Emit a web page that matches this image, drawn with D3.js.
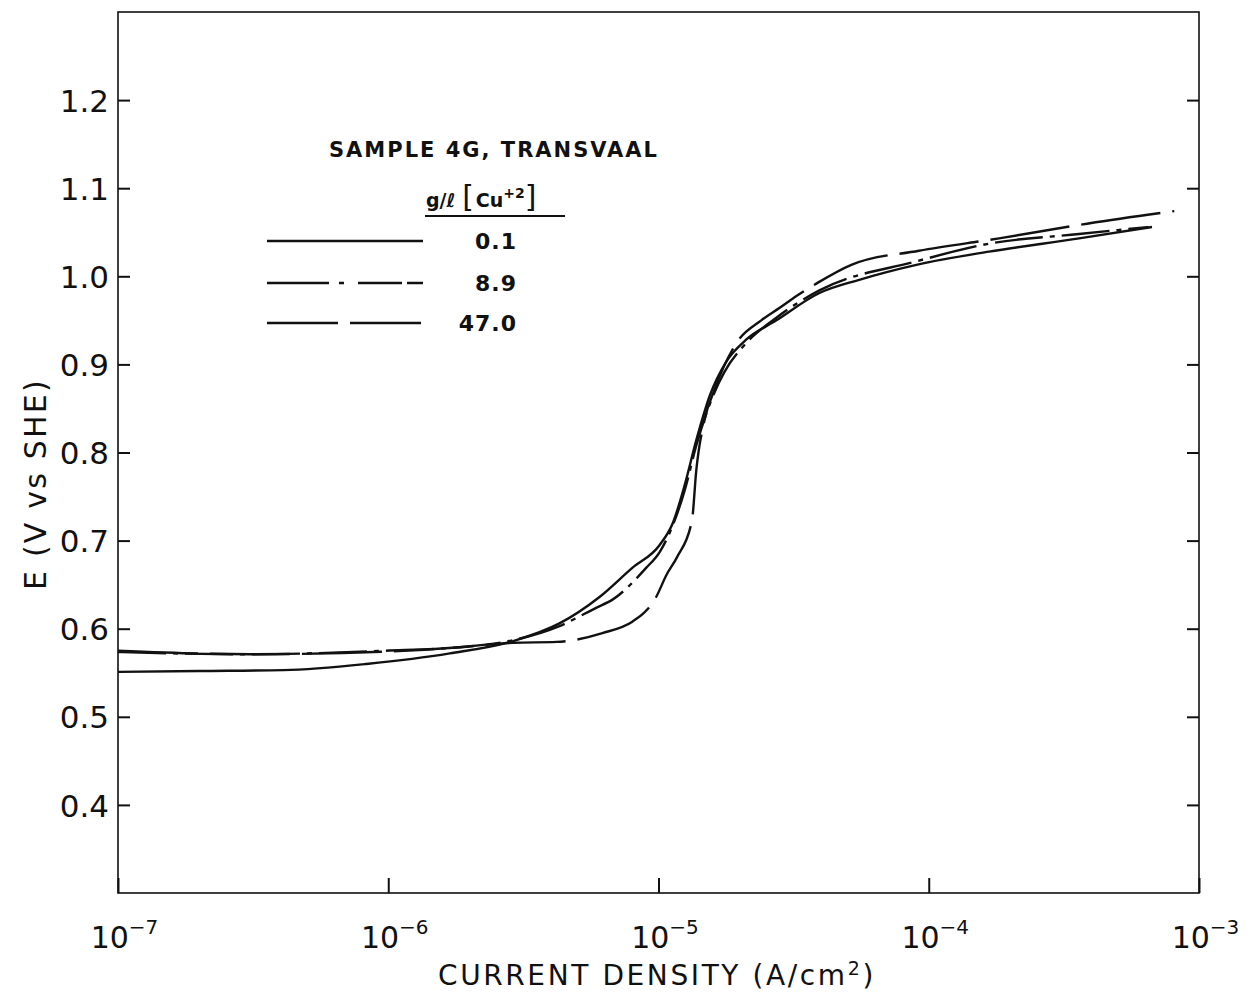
<!DOCTYPE html>
<html>
<head>
<meta charset="utf-8">
<script src="https://cdn.jsdelivr.net/npm/d3@7"></script>
<style>
  html, body { margin: 0; padding: 0; background: #fff; }
  svg { display: block; }
  text { font-family: "DejaVu Sans", "Liberation Sans", sans-serif; fill: #111; }
</style>
</head>
<body>
<svg id="chart" width="1254" height="996"></svg>
<script>
// Polarization curves: current density (A/cm^2) vs potential E (V vs SHE)
const seriesLabels = ["0.1", "8.9", "47.0"];

const current01 = [1.0e-7, 2.0e-7, 4.1e-7, 8.3e-7, 1.69e-6, 2.9e-6, 4.3e-6, 6.05e-6, 8.0e-6, 1.01e-5, 1.13e-5, 1.25e-5, 1.38e-5, 1.55e-5, 1.78e-5, 2.11e-5, 2.73e-5, 3.94e-5, 5.53e-5, 9.0e-5, 1.67e-4, 3.6e-4, 6.7e-4];
const potential01 = [0.551, 0.552, 0.553, 0.560, 0.572, 0.586, 0.606, 0.636, 0.669, 0.695, 0.720, 0.763, 0.814, 0.865, 0.903, 0.928, 0.950, 0.981, 0.996, 1.013, 1.028, 1.043, 1.056];

const current89 = [1.0e-7, 3.08e-7, 9.7e-7, 1.84e-6, 2.9e-6, 4.3e-6, 5.9e-6, 6.76e-6, 9.0e-6, 1.01e-5, 1.10e-5, 1.25e-5, 1.38e-5, 1.57e-5, 1.75e-5, 2.08e-5, 2.73e-5, 3.94e-5, 9.0e-5, 1.67e-4, 3.6e-4, 6.5e-4];
const potential89 = [0.5735, 0.571, 0.575, 0.579, 0.587, 0.603, 0.624, 0.633, 0.669, 0.687, 0.709, 0.757, 0.808, 0.860, 0.891, 0.922, 0.953, 0.984, 1.017, 1.037, 1.048, 1.056];

const current470 = [1.0e-7, 3.08e-7, 9.7e-7, 1.84e-6, 2.9e-6, 4.2e-6, 6.2e-6, 8.0e-6, 9.1e-6, 9.8e-6, 1.07e-5, 1.17e-5, 1.33e-5, 1.38e-5, 1.48e-5, 1.61e-5, 1.94e-5, 2.40e-5, 2.80e-5, 3.25e-5, 3.85e-5, 5.17e-5, 9.2e-5, 1.82e-4, 3.9e-4, 8.1e-4];
const potential470 = [0.575, 0.571, 0.574, 0.579, 0.584, 0.585, 0.595, 0.608, 0.622, 0.636, 0.661, 0.681, 0.723, 0.780, 0.837, 0.871, 0.924, 0.950, 0.964, 0.978, 0.992, 1.013, 1.029, 1.043, 1.060, 1.074];

const potentialTicks = [0.4, 0.5, 0.6, 0.7, 0.8, 0.9, 1.0, 1.1, 1.2];
const decadeTicks = [1e-7, 1e-6, 1e-5, 1e-4, 1e-3];
const decadeExponents = ["-7", "-6", "-5", "-4", "-3"];

(function draw() {
  const svg = d3.select("#chart");
  const plotLeft = 118, plotRight = 1199, plotTop = 12, plotBottom = 893;

  const x = d3.scaleLog().domain([1e-7, 1e-3]).range([plotLeft, plotRight]);
  const y = d3.scaleLinear().domain([0.3, 1.3]).range([plotBottom, plotTop]);

  const series = [
    { label: seriesLabels[0], xs: current01, ys: potential01, dash: null, key: null },
    { label: seriesLabels[1], xs: current89, ys: potential89, dash: "48,7,5,7", key: "62,10,5,14,44,5" },
    { label: seriesLabels[2], xs: current470, ys: potential470, dash: "80,12", key: "71,12" }
  ];

  // Frame
  svg.append("rect")
    .attr("x", plotLeft).attr("y", plotTop)
    .attr("width", plotRight - plotLeft).attr("height", plotBottom - plotTop)
    .attr("fill", "none").attr("stroke", "#111").attr("stroke-width", 1.6);

  // Left axis with inward ticks
  const yAxis = svg.append("g")
    .attr("transform", `translate(${plotLeft},0)`)
    .call(d3.axisLeft(y).tickValues(potentialTicks).tickFormat(d3.format(".1f")).tickSize(-12).tickPadding(9));
  yAxis.select(".domain").remove();
  yAxis.selectAll(".tick line").attr("stroke", "#111").attr("stroke-width", 2);
  yAxis.selectAll(".tick text")
    .style("font-size", "31px").attr("fill", "#111").attr("dy", "0.36em");

  // Right axis ticks
  const yAxisR = svg.append("g")
    .attr("transform", `translate(${plotRight},0)`)
    .call(d3.axisRight(y).tickValues(potentialTicks).tickFormat("").tickSize(-12));
  yAxisR.select(".domain").remove();
  yAxisR.selectAll(".tick line").attr("stroke", "#111").attr("stroke-width", 2);

  // Bottom axis: decades with superscript exponents
  const xAxis = svg.append("g")
    .attr("transform", `translate(0,${plotBottom})`)
    .call(d3.axisBottom(x).tickValues(decadeTicks).tickFormat("").tickSize(-15));
  xAxis.select(".domain").remove();
  xAxis.selectAll(".tick line").attr("stroke", "#111").attr("stroke-width", 2);
  xAxis.selectAll(".tick").each(function(d, i) {
    const t = d3.select(this).append("text")
      .attr("x", 6).attr("y", 55)
      .attr("text-anchor", "middle")
      .style("font-size", "30px");
    t.append("tspan").text("10");
    t.append("tspan").attr("dy", "-14").style("font-size", "20px").text(decadeExponents[i].replace("-", "\u2212"));
  });

  // Axis titles
  const xTitle = svg.append("text")
    .attr("x", 657).attr("y", 985)
    .attr("text-anchor", "middle")
    .style("font-size", "28px")
    .attr("letter-spacing", "2.6");
  xTitle.append("tspan").text("CURRENT DENSITY (A/cm");
  xTitle.append("tspan").attr("dy", -10).style("font-size", "19px").text("2");
  xTitle.append("tspan").attr("dy", 10).text(")");

  svg.append("text")
    .attr("transform", "translate(46,484) rotate(-90)")
    .attr("text-anchor", "middle")
    .style("font-size", "30px")
    .attr("letter-spacing", "2.2")
    .text("E (V vs SHE)");

  // Curves
  const line = d3.line()
    .x(d => x(d[0]))
    .y(d => y(d[1]))
    .curve(d3.curveMonotoneX);

  svg.append("g").selectAll("path")
    .data(series)
    .join("path")
    .attr("d", s => line(s.xs.map((v, i) => [v, s.ys[i]])))
    .attr("fill", "none")
    .attr("stroke", "#111")
    .attr("stroke-width", 2.4)
    .attr("stroke-dasharray", s => s.dash);

  // Legend
  const legend = svg.append("g");
  legend.append("text")
    .attr("x", 494).attr("y", 157)
    .attr("text-anchor", "middle")
    .style("font-size", "21px").style("font-weight", "bold")
    .attr("letter-spacing", "2")
    .text("SAMPLE 4G, TRANSVAAL");

  const unit = legend.append("text")
    .attr("x", 426).attr("y", 207)
    .style("font-size", "19px").style("font-weight", "bold");
  unit.append("tspan").text("g/\u2113 ");
  unit.append("tspan").style("font-size", "30px").style("font-weight", "normal").text("[");
  unit.append("tspan").attr("dx", 2).text("Cu");
  unit.append("tspan").attr("dy", -9).style("font-size", "14px").text("+2");
  unit.append("tspan").attr("dy", 9).style("font-size", "30px").style("font-weight", "normal").text("]");

  legend.append("line")
    .attr("x1", 425).attr("x2", 565).attr("y1", 216).attr("y2", 216)
    .attr("stroke", "#111").attr("stroke-width", 2);

  const legendRows = [241, 283, 323];
  series.forEach((s, i) => {
    legend.append("line")
      .attr("x1", 267).attr("x2", 423)
      .attr("y1", legendRows[i]).attr("y2", legendRows[i])
      .attr("stroke", "#111").attr("stroke-width", 2.4)
      .attr("stroke-dasharray", s.key);
    legend.append("text")
      .attr("x", 517).attr("y", legendRows[i] + 8)
      .attr("text-anchor", "end")
      .style("font-size", "22px").style("font-weight", "bold")
      .attr("letter-spacing", "1")
      .text(s.label);
  });
})();
</script>
</body>
</html>
